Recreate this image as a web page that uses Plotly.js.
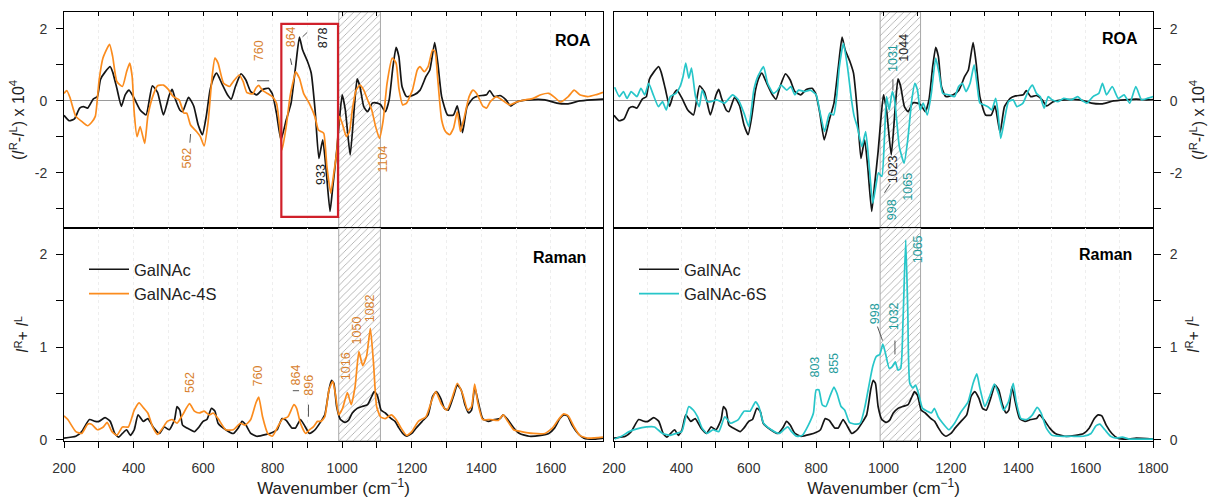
<!DOCTYPE html>
<html><head><meta charset="utf-8">
<script src="https://cdn.plot.ly/plotly-3.0.1.min.js"></script>
<style>html,body{margin:0;padding:0;background:#fff}#chart{width:1211px;height:502px}</style>
</head><body><div id="chart"></div>
<script>
// ---------- data ----------
const roaGalNAcX = [200,215,230,245,256,268,284,296,305,318,333,340,352,365,376,387,402,419,436,454,469,486,503,511,519,533,541,558,573,586,598,609,620,631,639,653,670,681,693,709,723,737,754,771,788,799,811,824,839,853,866,877,886,900,911,922,933,944,953,965,973,984,992,1000,1009,1023,1035,1043,1051,1062,1073,1087,1101,1110,1124,1135,1146,1155,1163,1172,1185,1207,1224,1241,1252,1266,1275,1286,1303,1320,1331,1346,1359,1376,1392,1415,1424,1437,1454,1471,1484,1504,1538,1583,1617,1650,1683,1717,1750,1780,1800];
const roaGalNAcY = [-0.4,-0.55,-0.5,-0.2,-0.16,-0.2,0.05,0.12,0.6,0.8,0.95,0.8,0.35,-0.15,0.17,0.3,0.07,-0.25,-0.39,0.42,0.24,-0.39,0.17,0.32,0.08,-0.25,-0.3,0.1,-0.14,-0.67,-0.94,-0.43,0.3,0.66,0.77,0.5,0.17,0.05,0.4,0.75,0.58,0.26,0.17,0.32,0.35,0.2,-0.34,-1.08,-0.53,-0.06,0.95,1.77,1.42,1.1,0.77,-0.25,-1.6,-1.08,-1.82,-3.07,-2.38,-1.41,-0.53,0.17,-0.25,-1.5,-0.16,0.61,0.4,-0.16,-0.3,-0.06,-0.06,-0.1,-0.3,0.03,0.95,1.49,1.23,0.4,0.12,0.17,0.3,0.68,0.86,1.62,1.05,0.12,-0.39,-0.39,-0.14,-0.88,-0.16,0.07,0.14,0.17,0.29,0.12,0.15,0.03,-0.14,-0.02,0.03,0.03,-0.06,-0.08,0,0.03,0.05,0.03,0.04];

const roa4SX = [200,208,217,234,251,268,279,290,301,312,331,340,352,368,380,389,396,402,410,419,432,441,455,469,486,500,514,531,545,553,564,581,592,603,614,626,634,643,659,676,687,704,715,726,743,752,760,771,788,799,811,820,827,839,850,860,866,877,889,905,922,931,939,947,956,967,976,985,992,1000,1012,1021,1029,1040,1051,1062,1073,1085,1096,1107,1118,1129,1144,1155,1163,1174,1185,1202,1216,1224,1236,1247,1260,1267,1275,1286,1297,1309,1320,1331,1340,1350,1365,1376,1387,1404,1415,1426,1443,1459,1482,1504,1527,1549,1571,1594,1611,1627,1650,1667,1683,1706,1729,1750];
const roa4SY = [0.21,0.29,0.1,-0.43,-0.57,-0.69,-0.6,-0.43,0.58,1.19,1.57,1.23,0.54,0.4,0.81,1.05,0.68,-0.34,-0.99,-0.71,-1.18,-0.43,0.12,0.42,0.44,0.32,0.12,0.03,-0.34,-0.34,-0.67,-0.85,-0.99,-1.25,-0.62,0.68,1.19,1.05,0.49,0.4,0.54,0.72,0.54,0.23,0.2,0.36,0.43,0.29,0.19,0.12,-0.06,-0.71,-1.36,-0.71,0.12,0.58,0.81,0.63,0.21,-0.06,-0.45,-0.8,-0.85,-0.9,-1.82,-2.56,-2.0,-1.36,-0.43,-0.62,-0.99,-0.85,-0.25,0.3,0.44,0.3,0.03,-0.25,-0.71,-1.04,-0.53,0.49,1.19,1.05,0.35,-0.11,-0.06,0.3,0.86,0.95,0.81,0.95,1.42,1.37,0.58,-0.53,-0.85,-0.94,-0.76,-0.3,-0.85,-0.5,0.12,0.3,0.2,-0.14,-0.2,-0.02,0.12,0.03,-0.11,-0.02,0.03,0.07,0.17,0.21,0.1,-0.03,0.12,0.3,0.17,0.12,0.17,0.24];

const roa6SX = [202,216,228,239,251,268,280,291,303,315,332,344,355,367,384,396,405,413,422,430,442,453,462,476,488,505,528,552,569,586,600,615,627,644,656,673,685,696,713,725,737,748,766,783,800,812,825,840,852,861,869,881,893,905,913,922,936,947,956,968,977,985,995,1003,1009,1017,1026,1033,1040,1047,1061,1072,1084,1093,1101,1109,1118,1130,1142,1155,1165,1176,1194,1211,1223,1234,1245,1257,1269,1278,1286,1298,1310,1321,1333,1339,1348,1359,1371,1385,1396,1414,1431,1442,1454,1465,1477,1489,1500,1518,1535,1558,1576,1587,1604,1622,1639,1650,1662,1679,1697,1714,1731,1749,1766,1783,1800];
const roa6SY = [0.38,0.12,0.26,0.07,0.26,0.12,0.35,0.17,0.49,0.21,-0.16,-0.02,-0.25,0.12,0.21,0.4,0.68,1.05,0.63,0.91,0.12,-0.16,0.3,-0.02,-0.02,0.03,-0.06,0.17,0.03,-0.34,-0.71,0.3,0.68,0.95,0.49,0.21,0.29,0.44,0.3,0.4,0.17,0.3,0.26,0.3,0.17,-0.34,-0.85,-0.34,-0.39,0.12,0.95,1.6,0.95,0.03,-0.43,-0.71,-1.27,-0.85,-1.64,-2.84,-2.38,-2.0,-2.1,-0.99,0.12,-0.25,0.26,0.03,-0.62,-1.27,-1.73,-1.08,0.03,0.49,0.3,-0.25,-0.06,-0.39,0.21,1.19,0.77,0.21,0.17,0.12,0.4,0.49,0.26,0.49,1.0,0.44,-0.06,-0.11,-0.16,-0.25,0.07,-0.25,-1.04,-0.53,-0.02,0.03,-0.16,-0.06,0.3,0.44,0.21,0.12,-0.2,0.12,0.03,-0.02,0.07,0.03,0.12,0.03,-0.06,0.12,0.21,0.49,0.17,0.4,0.07,0.17,-0.06,0.4,0.03,0.07,0.12];

const ramGalNAcX = [200,234,251,273,290,301,318,333,346,357,368,380,391,402,413,428,441,458,475,488,503,518,525,533,541,553,575,586,600,611,624,634,643,665,687,701,712,723,737,754,782,799,813,827,839,855,866,880,891,906,922,939,950,962,969,976,984,995,1008,1018,1029,1043,1057,1073,1085,1092,1101,1112,1124,1141,1152,1163,1174,1185,1200,1213,1230,1247,1260,1271,1283,1294,1305,1320,1331,1342,1353,1364,1372,1381,1390,1404,1420,1437,1454,1463,1476,1493,1510,1538,1571,1594,1611,1626,1637,1648,1661,1678,1695,1729,1750,1800];
const ramGalNAcY = [0.02,0.04,0.09,0.22,0.2,0.2,0.24,0.2,0.07,0.03,0.07,0.11,0.05,0.11,0.27,0.2,0.23,0.13,0.07,0.14,0.11,0.22,0.36,0.32,0.16,0.13,0.09,0.13,0.2,0.22,0.34,0.31,0.18,0.11,0.07,0.13,0.2,0.16,0.07,0.04,0.06,0.08,0.11,0.23,0.21,0.13,0.13,0.22,0.16,0.07,0.11,0.2,0.27,0.54,0.64,0.61,0.36,0.22,0.19,0.21,0.29,0.34,0.36,0.38,0.47,0.52,0.48,0.32,0.29,0.23,0.2,0.13,0.07,0.04,0.07,0.13,0.2,0.27,0.47,0.52,0.45,0.34,0.32,0.47,0.59,0.54,0.38,0.29,0.32,0.57,0.43,0.23,0.2,0.22,0.23,0.27,0.22,0.13,0.07,0.04,0.05,0.07,0.13,0.23,0.27,0.26,0.16,0.07,0.02,0.01,0.02,0.01];

const ram4SX = [200,211,234,251,268,279,296,313,324,338,352,368,385,402,416,430,441,455,469,484,497,511,525,541,561,575,589,603,618,629,643,665,687,707,721,737,752,760,771,786,799,813,827,844,861,869,880,895,906,917,929,939,950,962,973,981,990,1001,1015,1026,1037,1048,1059,1070,1081,1090,1099,1110,1124,1141,1155,1169,1185,1200,1219,1241,1258,1269,1286,1301,1316,1331,1346,1361,1372,1381,1390,1404,1426,1449,1463,1476,1493,1515,1549,1583,1605,1622,1637,1650,1667,1683,1706,1750];
const ram4SY = [0.26,0.22,0.09,0.07,0.17,0.17,0.11,0.14,0.19,0.09,0.05,0.14,0.14,0.32,0.4,0.34,0.29,0.14,0.06,0.13,0.2,0.22,0.18,0.27,0.39,0.31,0.29,0.31,0.27,0.29,0.23,0.11,0.11,0.18,0.16,0.22,0.4,0.46,0.25,0.07,0.04,0.13,0.22,0.25,0.38,0.34,0.18,0.07,0.11,0.14,0.2,0.2,0.25,0.54,0.63,0.48,0.27,0.34,0.51,0.38,0.57,0.95,0.8,0.9,1.2,0.83,0.36,0.25,0.23,0.27,0.22,0.13,0.05,0.09,0.2,0.25,0.43,0.52,0.38,0.32,0.45,0.61,0.5,0.32,0.36,0.6,0.4,0.22,0.22,0.21,0.27,0.2,0.11,0.09,0.07,0.07,0.13,0.22,0.28,0.26,0.14,0.05,0.02,0.03];

const ram6SX = [202,222,245,268,297,320,344,367,384,401,413,422,436,448,461,476,494,511,529,546,569,586,604,620,630,644,667,690,704,716,727,742,759,777,792,800,808,818,829,841,853,862,874,885,899,916,931,945,956,968,979,989,998,1006,1017,1026,1035,1043,1051,1058,1066,1072,1078,1087,1095,1104,1116,1130,1142,1151,1162,1176,1194,1211,1228,1251,1266,1277,1286,1301,1315,1329,1341,1356,1371,1385,1394,1408,1425,1442,1456,1468,1483,1500,1523,1558,1593,1616,1630,1642,1657,1674,1691,1709,1731,1800];
const ram6SY = [0.01,0.04,0.09,0.12,0.14,0.14,0.07,0.05,0.07,0.09,0.25,0.36,0.32,0.25,0.13,0.07,0.11,0.09,0.25,0.18,0.22,0.31,0.31,0.41,0.36,0.18,0.11,0.07,0.11,0.14,0.09,0.04,0.05,0.16,0.29,0.54,0.54,0.38,0.36,0.47,0.57,0.5,0.36,0.32,0.19,0.17,0.18,0.36,0.57,0.79,0.9,0.92,1.03,0.93,0.77,0.79,0.84,0.75,0.77,1.29,2.15,1.4,0.61,0.56,0.59,0.5,0.34,0.31,0.29,0.34,0.25,0.18,0.11,0.18,0.29,0.41,0.61,0.71,0.56,0.36,0.47,0.6,0.5,0.32,0.41,0.61,0.41,0.23,0.22,0.27,0.35,0.29,0.13,0.05,0.04,0.04,0.04,0.07,0.15,0.17,0.11,0.04,0.02,0.03,0.01,0.01];

const seriesNames = ['GalNAc', 'GalNAc-4S', 'GalNAc-6S'];
const xTickVals = [200,400,600,800,1000,1200,1400,1600,1800];
const xTickText = ['200','400','600','800','1000','1200','1400','1600','1800'];
const xMinorVals = [300,500,700,900,1100,1300,1500,1700];
const roaTickVals = [-2,0,2];
const roaTickText = ['-2','0','2'];
const roaMinorVals = [-3,-1,1];
const ramTickVals = [0,1,2];
const ramTickText = ['0','1','2'];
const ramMinorVals = [0.5,1.5];
const hatchRange = [990, 1110];
const roaBoxX = [825, 988];
const roaBoxY = [-3.22, 2.14];

// ---------- styles ----------
const FONT = 'Liberation Sans, Arial, sans-serif';
const C_BLACK = '#151515', C_ORANGE = '#fb8c1e', C_CYAN = '#27c6c9';
const T_ORANGE = '#d8812e', T_TEAL = '#1f9c9c', T_BLACK = '#222';
const ROA_RANGE = [-3.53, 2.47], RAM_RANGE = [-0.011, 2.28];
const LW = 1.7;
const GRID = '#eeeeee';

function hatch(xa, ya, yr) {
  return {x:[hatchRange[0],hatchRange[1],hatchRange[1],hatchRange[0],hatchRange[0]],
          y:[yr[0],yr[0],yr[1],yr[1],yr[0]], xaxis:xa, yaxis:ya, mode:'lines',
          fill:'toself', fillcolor:'rgba(255,255,255,0)',
          fillpattern:{shape:'/', fgcolor:'#a0a0a0', bgcolor:'#ffffff', size:5, solidity:0.15},
          line:{color:'#a8a8a8', width:1}, hoverinfo:'skip', showlegend:false};
}
function curve(x, y, xa, ya, color, name, legend, show) {
  return {x:x, y:y, xaxis:xa, yaxis:ya, mode:'lines', name:name, legend:legend,
          showlegend:show, line:{color:color, width:LW, shape:'spline', smoothing:0.5}};
}

const data = [
  hatch('x','y',ROA_RANGE), hatch('x2','y2',ROA_RANGE), hatch('x3','y3',RAM_RANGE), hatch('x4','y4',RAM_RANGE),
  curve(roaGalNAcX, roaGalNAcY, 'x','y', C_BLACK, seriesNames[0], 'legend', false),
  curve(roa4SX, roa4SY, 'x','y', C_ORANGE, seriesNames[1], 'legend', false),
  curve(roaGalNAcX, roaGalNAcY, 'x2','y2', C_BLACK, seriesNames[0], 'legend2', false),
  curve(roa6SX, roa6SY, 'x2','y2', C_CYAN, seriesNames[2], 'legend2', false),
  curve(ramGalNAcX, ramGalNAcY, 'x3','y3', C_BLACK, seriesNames[0], 'legend', true),
  curve(ram4SX, ram4SY, 'x3','y3', C_ORANGE, seriesNames[1], 'legend', true),
  curve(ramGalNAcX, ramGalNAcY, 'x4','y4', C_BLACK, seriesNames[0], 'legend2', true),
  curve(ram6SX, ram6SY, 'x4','y4', C_CYAN, seriesNames[2], 'legend2', true)
];

const W = 1211, H = 502;
const dxL = [64/W, 603/W], dxR = [614/W, 1153/W];
const dyT = [1-228/H, 1-12/H], dyB = [1-441/H, 1-228/H];

function xTop(dom, rng, anchor) {
  return {domain:dom, anchor:anchor, range:rng, side:'top', tickvals:xTickVals, showticklabels:false,
          ticks:'inside', ticklen:4, tickcolor:'#000',
          minor:{tickvals:xMinorVals, ticks:'inside', ticklen:4, tickcolor:'#000', showgrid:true, gridcolor:GRID, griddash:'dot'},
          showline:true, mirror:true, linecolor:'#000', linewidth:1,
          showgrid:true, gridcolor:GRID, griddash:'dot', zeroline:false};
}
function xBot(dom, rng, anchor) {
  return {domain:dom, anchor:anchor, range:rng, tickvals:xTickVals, ticktext:xTickText,
          ticks:'outside', ticklen:6, tickcolor:'#000', ticklabelstandoff:8,
          minor:{tickvals:xMinorVals, ticks:'outside', ticklen:6, tickcolor:'#000', showgrid:true, gridcolor:GRID, griddash:'dot'},
          tickfont:{family:FONT, size:14, color:'#333'},
          showline:true, mirror:true, linecolor:'#000', linewidth:1,
          showgrid:true, gridcolor:GRID, griddash:'dot', zeroline:false,
          title:{text:'Wavenumber (cm<sup>−1</sup>)', font:{family:FONT, size:17, color:'#222'}, standoff:4}};
}
function xOver(over, rng, anchor) {
  return {overlaying:over, anchor:anchor, range:rng, side:'top', tickvals:xTickVals, showticklabels:false,
          ticks:'inside', ticklen:4, tickcolor:'#000',
          minor:{tickvals:xMinorVals, ticks:'inside', ticklen:4, tickcolor:'#000'},
          showline:false, showgrid:false, zeroline:false};
}
const roaTitle = '(<i>I</i><sup>R</sup>-<i>I</i><sup>L</sup>) x 10<sup>4</sup>';
const ramTitle = '<i>I</i><sup>R</sup>+ <i>I</i><sup>L</sup>';
function yAx(dom, rng, anchor, side, tv, tt, mv, title, zero) {
  return {domain:dom, anchor:anchor, range:rng, side:side, tickvals:tv, ticktext:tt,
          ticks:'outside', ticklen:7, tickcolor:'#000', ticklabelstandoff:6,
          minor:{tickvals:mv, ticks:'outside', ticklen:7, tickcolor:'#000', showgrid:false},
          tickfont:{family:FONT, size:14, color:'#333'},
          showline:true, mirror:true, linecolor:'#000', linewidth:1, showgrid:false,
          zeroline:zero, zerolinecolor:'#9a9a9a', zerolinewidth:1,
          title:{text:title, font:{family:FONT, size:16, color:'#222'}, standoff: side === 'right' ? 11 : 6}};
}

function lab(text, x, y, color, xr, yr, bold) {
  return {text: bold ? '<b>'+text+'</b>' : text, x:x, y:y, xref:xr, yref:yr, showarrow:false,
          textangle: bold ? 0 : -90, font:{family:FONT, size: bold ? 16 : 12.5, color:color}};
}
const annotations = [
  lab('562', 555, -1.59, T_ORANGE, 'x','y'), lab('760', 760, 1.4, T_ORANGE, 'x','y'),
  lab('864', 853, 1.77, T_ORANGE, 'x','y'), lab('878', 945, 1.74, T_BLACK, 'x','y'),
  lab('933', 939, -2.03, T_BLACK, 'x','y'), lab('1104', 1118, -1.62, T_ORANGE, 'x','y'),
  lab('ROA', 1663, 1.68, '#000', 'x','y', true),
  lab('1031', 1028, 1.19, T_TEAL, 'x2','y2'), lab('1044', 1061, 1.48, T_BLACK, 'x2','y2'),
  lab('1023', 1028, -1.9, T_BLACK, 'x2','y2'), lab('998', 1026, -3.03, T_TEAL, 'x2','y2'),
  lab('1065', 1073, -2.38, T_TEAL, 'x2','y2'),
  lab('ROA', 1703, 1.72, '#000', 'x2','y2', true),
  lab('562', 564, 0.62, T_ORANGE, 'x3','y3'), lab('760', 757, 0.69, T_ORANGE, 'x3','y3'),
  lab('864', 866, 0.7, T_ORANGE, 'x3','y3'), lab('896', 906, 0.59, T_ORANGE, 'x3','y3'),
  lab('1016', 1010, 0.79, T_ORANGE, 'x3','y3'), lab('1050', 1043, 1.18, T_ORANGE, 'x3','y3'),
  lab('1082', 1081, 1.42, T_ORANGE, 'x3','y3'),
  lab('Raman', 1625, 1.96, '#000', 'x3','y3', true),
  lab('803', 797, 0.78, T_TEAL, 'x4','y4'), lab('855', 853, 0.83, T_TEAL, 'x4','y4'),
  lab('998', 974, 1.36, T_TEAL, 'x4','y4'), lab('1032', 1031, 1.33, T_TEAL, 'x4','y4'),
  lab('1065', 1105, 2.05, T_TEAL, 'x4','y4'),
  lab('Raman', 1660, 1.99, '#000', 'x4','y4', true)
];
function lead(x0, y0, x1, y1, xr, yr) {
  return {type:'line', x0:x0, y0:y0, x1:x1, y1:y1, xref:xr, yref:yr, line:{color:'#555', width:1}};
}
const shapes = [
  {type:'rect', xref:'x', yref:'y', x0:roaBoxX[0], x1:roaBoxX[1], y0:roaBoxY[0], y1:roaBoxY[1],
   line:{color:'#d0202a', width:2.2}, fillcolor:'rgba(0,0,0,0)'},
  lead(564, -0.92, 562, -1.16, 'x','y'),
  lead(755, 0.56, 790, 0.56, 'x','y'),
  lead(851, 1.18, 855, 1.0, 'x','y'),
  lead(886, 1.78, 899, 1.9, 'x','y'),
  lead(1028, 0.6, 1028, 0.29, 'x2','y2'),
  lead(1003, -2.55, 1020, -2.31, 'x2','y2'),
  lead(858, 0.53, 876, 0.53, 'x3','y3'),
  lead(903, 0.38, 903, 0.25, 'x3','y3'),
  lead(982, 1.22, 997, 1.07, 'x4','y4'),
  lead(1034, 1.07, 1034, 0.92, 'x4','y4')
];

const legendBase = {xanchor:'left', yanchor:'top', bgcolor:'rgba(0,0,0,0)', borderwidth:0,
                    font:{family:FONT, size:16.5, color:'#222'}, tracegroupgap:0, itemwidth:40};
const layout = {
  width:W, height:H, margin:{l:0, r:0, t:0, b:0}, paper_bgcolor:'#fff', plot_bgcolor:'rgba(0,0,0,0)',
  font:{family:FONT, color:'#222'},
  xaxis: xTop(dxL, [200,1750], 'y'),
  xaxis2: xTop(dxR, [200,1800], 'y2'),
  xaxis3: xBot(dxL, [200,1750], 'y3'),
  xaxis4: xBot(dxR, [200,1800], 'y4'),
  xaxis5: xOver('x3', [200,1750], 'y3'),
  xaxis6: xOver('x4', [200,1800], 'y4'),
  yaxis: yAx(dyT, ROA_RANGE, 'x', 'left', roaTickVals, roaTickText, roaMinorVals, roaTitle, true),
  yaxis2: yAx(dyT, ROA_RANGE, 'x2', 'right', roaTickVals, roaTickText, roaMinorVals, roaTitle, true),
  yaxis3: yAx(dyB, RAM_RANGE, 'x3', 'left', ramTickVals, ramTickText, ramMinorVals, ramTitle, false),
  yaxis4: yAx(dyB, RAM_RANGE, 'x4', 'right', ramTickVals, ramTickText, ramMinorVals, ramTitle, false),
  legend: Object.assign({x:84/W, y:1-252/H}, legendBase),
  legend2: Object.assign({x:634/W, y:1-252/H}, legendBase),
  annotations: annotations, shapes: shapes, showlegend:true
};
Plotly.newPlot('chart', data, layout, {staticPlot:true, displayModeBar:false});
</script></body></html>
